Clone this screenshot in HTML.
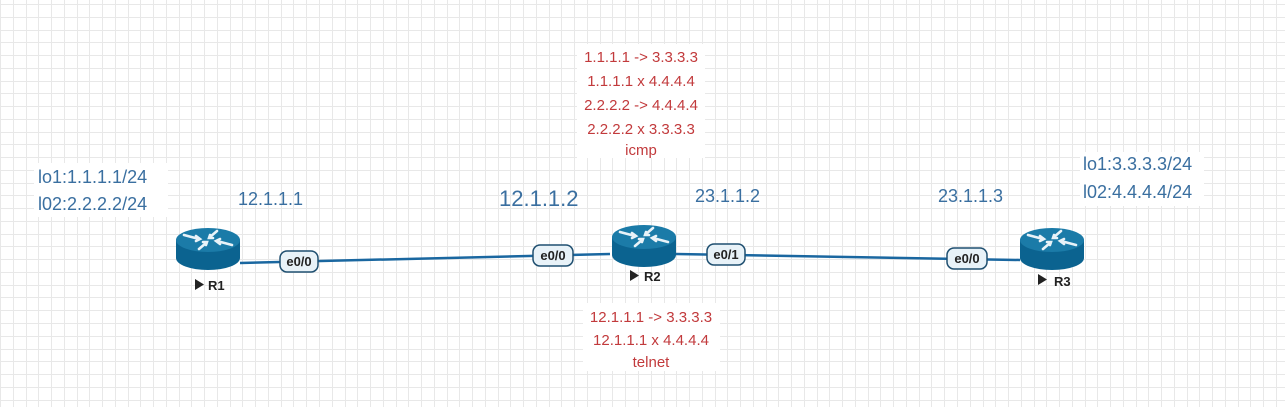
<!DOCTYPE html>
<html><head><meta charset="utf-8"><style>
html,body{margin:0;padding:0;background:#fff;width:1285px;height:407px;overflow:hidden}
svg{display:block;font-family:"Liberation Sans",Arial,sans-serif}
.b{fill:#3a6fa0;font-size:18px}
.r{fill:#c23a3c;font-size:15px;text-anchor:middle}
.p{fill:#e8f2f8;stroke:#1f4f70;stroke-width:1.5}
.pt{fill:#222;font-size:13px;font-weight:bold;text-anchor:middle}
.rl{fill:#222;font-size:13px;font-weight:bold}
</style></head><body>
<svg width="1285" height="407" viewBox="0 0 1285 407">
<defs>
<g id="router">
<path d="M-32 0 V18 A32 12 0 0 0 32 18 V0 Z" fill="#0b6390"/>
<ellipse cx="0" cy="0" rx="32" ry="12" fill="#1b7ba8"/>
<g stroke="#e8f2f8" stroke-width="2.6" stroke-linecap="round" fill="none">
<path d="M-24 -5 L-9 -1"/><path d="M-12 -4 L-8 -1 L-12 1"/>
<path d="M24 5 L9 1"/><path d="M12 4 L8 1 L12 -1"/>
<path d="M-9 9 L-2 3"/><path d="M-5 2 L-1 2 L-2 5"/>
<path d="M9 -9 L2 -3"/><path d="M5 -2 L1 -2 L2 -5"/>
</g>
</g>
</defs>
<rect width="1285" height="407" fill="#fff"/>
<g id="grid"></g>

<g stroke="#1a67a0" stroke-width="2.5">
<line x1="240" y1="263" x2="610" y2="254"/>
<line x1="676" y1="254" x2="1020" y2="260"/>
</g>

<g transform="translate(208,240)"><use href="#router"/></g>
<g transform="translate(644,237)"><use href="#router"/></g>
<g transform="translate(1052,240)"><use href="#router"/></g>

<g><path d="M195 279 L204 284.5 L195 290Z" fill="#222"/><text class="rl" x="208" y="290">R1</text></g>
<g><path d="M630 270 L639 275.5 L630 281Z" fill="#222"/><text class="rl" x="644" y="281">R2</text></g>
<g><path d="M1038 274 L1047 279.5 L1038 285Z" fill="#222"/><text class="rl" x="1054" y="286">R3</text></g>

<g><rect class="p" x="280" y="251" width="38" height="21" rx="7"/><text class="pt" x="299" y="266">e0/0</text></g>
<g><rect class="p" x="533" y="245" width="40" height="21" rx="7"/><text class="pt" x="553" y="260">e0/0</text></g>
<g><rect class="p" x="707" y="244" width="38" height="21" rx="7"/><text class="pt" x="726" y="259">e0/1</text></g>
<g><rect class="p" x="947" y="248" width="40" height="21" rx="7"/><text class="pt" x="967" y="263">e0/0</text></g>

<g>
<rect x="34" y="163" width="134" height="54" fill="#fff"/>
<text class="b" x="38" y="183">lo1:1.1.1.1/24</text>
<text class="b" x="38" y="210">l02:2.2.2.2/24</text>
</g>
<text class="b" x="238" y="205">12.1.1.1</text>
<text class="b" x="499" y="206" style="font-size:22px">12.1.1.2</text>
<text class="b" x="695" y="202">23.1.1.2</text>
<text class="b" x="938" y="202">23.1.1.3</text>
<g>
<rect x="1080" y="152" width="124" height="54" fill="#fff"/>
<text class="b" x="1083" y="170">lo1:3.3.3.3/24</text>
<text class="b" x="1083" y="198">l02:4.4.4.4/24</text>
</g>

<g>
<rect x="577" y="44" width="128" height="114" fill="#fff"/>
<text class="r" x="641" y="62">1.1.1.1 -&gt; 3.3.3.3</text>
<text class="r" x="641" y="86">1.1.1.1 x 4.4.4.4</text>
<text class="r" x="641" y="110">2.2.2.2 -&gt; 4.4.4.4</text>
<text class="r" x="641" y="134">2.2.2.2 x 3.3.3.3</text>
<text class="r" x="641" y="155">icmp</text>
</g>
<g>
<rect x="583" y="303" width="137" height="68" fill="#fff"/>
<text class="r" x="651" y="322">12.1.1.1 -&gt; 3.3.3.3</text>
<text class="r" x="651" y="345">12.1.1.1 x 4.4.4.4</text>
<text class="r" x="651" y="367">telnet</text>
</g>
</svg>
<script>
var g=document.getElementById('grid');
var ns='http://www.w3.org/2000/svg';
var d='';
for(var i=0;i<=101;i++){var x=Math.round(i*12.76)+0.5;d+='M'+x+' 0V407';}
for(var j=0;j<=32;j++){var y=Math.round(4+j*12.76)+0.5;d+='M0 '+y+'H1285';}
var p=document.createElementNS(ns,'path');
p.setAttribute('d',d);p.setAttribute('stroke','#e8e8e8');p.setAttribute('fill','none');


g.appendChild(p);
</script>
</body></html>
